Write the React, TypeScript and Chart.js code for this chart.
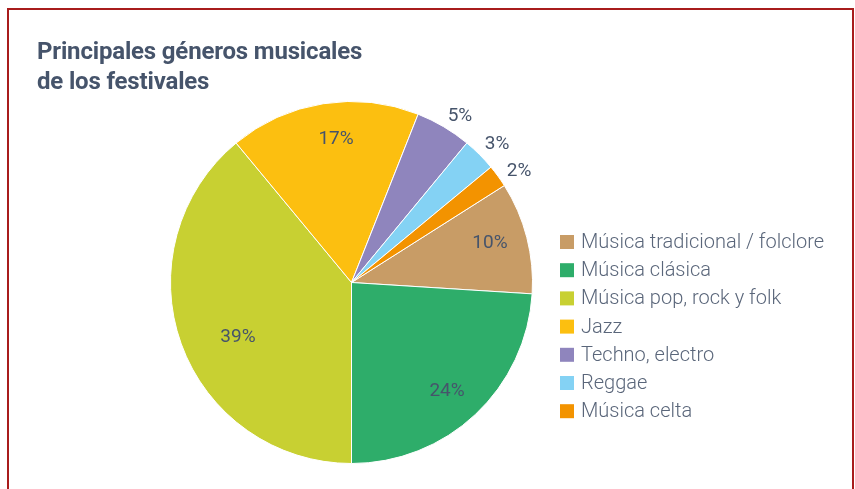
import React, { useEffect, useRef } from "react";
import { Chart, registerables } from "chart.js";
Chart.register(...registerables);

const categories = [
  "Música tradicional / folclore",
  "Música clásica",
  "Música pop, rock y folk",
  "Jazz",
  "Techno, electro",
  "Reggae",
  "Música celta",
];
const values = [10, 24, 39, 17, 5, 3, 2];
const valueLabels = ["10%", "24%", "39%", "17%", "5%", "3%", "2%"];
const colors = ["#c89c66", "#2ead6a", "#c8d032", "#fcbf10", "#8f85bd", "#84d2f4", "#f39300"];

// label placement styling: radius factor (relative to outer radius) and angular nudge in degrees
const labelRadius = [0.797, 0.795, 0.693, 0.803, 1.103, 1.114, 1.115];
const labelNudgeDeg = [-1.9, 1.6, -5.4, 2.9, 2.3, 1.2, 2.1];

const TEXT_DARK = "#46546b";
const TEXT_LEGEND = "#5a667a";
const FONT = "Roboto, 'Noto Sans', sans-serif";

const labelPlugin = {
  id: "sliceLabels",
  afterDatasetsDraw(chart: any) {
    const ctx = chart.ctx;
    const meta = chart.getDatasetMeta(0);
    ctx.save();
    ctx.font = `400 19px ${FONT}`;
    ctx.fillStyle = TEXT_DARK;
    ctx.textAlign = "center";
    ctx.textBaseline = "middle";
    meta.data.forEach((arc: any, i: number) => {
      const p = arc.getProps(["x", "y", "startAngle", "endAngle", "outerRadius"], true);
      const mid = (p.startAngle + p.endAngle) / 2 + (labelNudgeDeg[i] * Math.PI) / 180;
      const r = p.outerRadius * labelRadius[i];
      ctx.fillText(valueLabels[i], p.x + Math.cos(mid) * r, p.y + Math.sin(mid) * r + 1);
    });
    ctx.restore();
  },
};

const legendPlugin = {
  id: "sideLegend",
  afterDraw(chart: any) {
    const ctx = chart.ctx;
    ctx.save();
    ctx.font = `300 20px ${FONT}`;
    ctx.textBaseline = "middle";
    ctx.textAlign = "left";
    const x0 = 560;
    const y0 = 242;
    const step = 28.2;
    categories.forEach((c, i) => {
      const y = y0 + i * step;
      ctx.fillStyle = colors[i];
      ctx.fillRect(x0, y - 7, 14, 14);
      ctx.fillStyle = TEXT_LEGEND;
      ctx.fillText(c, x0 + 21, y + 1);
    });
    ctx.restore();
  },
};

export default function App() {
  const ref = useRef<HTMLCanvasElement>(null);
  useEffect(() => {
    if (!ref.current) return;
    const chart = new Chart(ref.current, {
      type: "pie",
      data: {
        labels: categories,
        datasets: [
          {
            data: values,
            backgroundColor: colors,
            borderColor: "#ffffff",
            borderWidth: 1,
          },
        ],
      },
      options: {
        animation: false,
        responsive: false,
        rotation: 57.6,
        layout: { padding: { left: 170, right: 322, top: 101, bottom: 25 } },
        plugins: {
          legend: { display: false },
          tooltip: { enabled: false },
        },
      },
      plugins: [labelPlugin, legendPlugin],
    });
    return () => chart.destroy();
  }, []);

  return (
    <div style={{ position: "fixed", left: 0, top: 0, width: 855, height: 489, overflow: "hidden", background: "#fff" }}>
      <div
        style={{
          position: "absolute",
          left: 7,
          top: 8,
          width: 847,
          height: 600,
          boxSizing: "border-box",
          border: "2px solid #a81c1c",
        }}
      />
      <canvas ref={ref} width={855} height={489} style={{ position: "absolute", left: 0, top: 0, width: 855, height: 489 }} />
      <div
        style={{
          position: "absolute",
          left: 37,
          top: 36,
          fontFamily: FONT,
          fontWeight: 700,
          fontSize: 24,
          letterSpacing: "-0.17px",
          lineHeight: "30px",
          color: TEXT_DARK,
          whiteSpace: "nowrap",
        }}
      >
        Principales géneros musicales
        <br />
        de los festivales
      </div>
    </div>
  );
}
